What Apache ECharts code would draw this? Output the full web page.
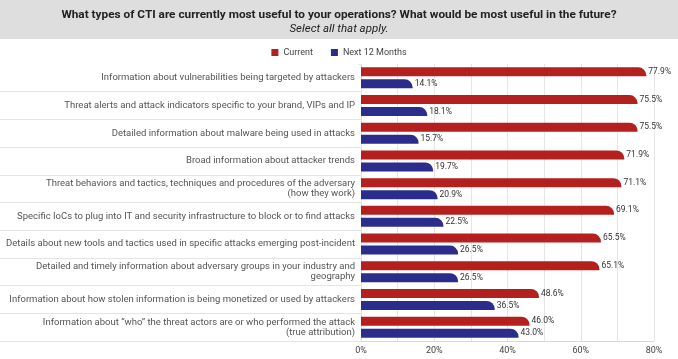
<!DOCTYPE html>
<html>
<head>
<meta charset="utf-8">
<script src="https://cdn.jsdelivr.net/npm/echarts@6/dist/echarts.min.js"></script>
<style>html,body{margin:0;padding:0;background:#fff}#c{width:678px;height:359px}</style>
</head>
<body>
<div id="c"></div>
<script>
const categories = [
  "Information about vulnerabilities being targeted by attackers",
  "Threat alerts and attack indicators specific to your brand, VIPs and IP",
  "Detailed information about malware being used in attacks",
  "Broad information about attacker trends",
  "Threat behaviors and tactics, techniques and procedures of the adversary\n(how they work)",
  "Specific IoCs to plug into IT and security infrastructure to block or to find attacks",
  "Details about new tools and tactics used in specific attacks emerging post-incident",
  "Detailed and timely information about adversary groups in your industry and\ngeography",
  "Information about how stolen information is being monetized or used by attackers",
  "Information about \u201cwho\u201d the threat actors are or who performed the attack\n(true attribution)"
];
const current = [77.9, 75.5, 75.5, 71.9, 71.1, 69.1, 65.5, 65.1, 48.6, 46.0];
const next12 = [14.1, 18.1, 15.7, 19.7, 20.9, 22.5, 26.5, 26.5, 36.5, 43.0];
const seriesNames = ["Current", "Next 12 Months"];
const titleText = "What types of CTI are currently most useful to your operations? What would be most useful in the future?";
const subText = "Select all that apply.";

const chart = echarts.init(document.getElementById('c'), null, {renderer: 'canvas'});
const FONT = 'Roboto';
const lbl = {
  show: true, position: 'right', distance: 2,
  fontFamily: FONT, fontSize: 8.5, color: '#333',
  formatter: p => p.value.toFixed(1) + '%'
};
chart.setOption({
  animation: false,
  graphic: [{
    type: 'rect', left: 0, top: 0, z: -10,
    shape: {width: 678, height: 39},
    style: {fill: '#dedede'}
  }, {
    type: 'rect', left: 0, top: 62.5, z: 100,
    shape: {width: 358, height: 3},
    style: {fill: '#ffffff'}
  }],
  title: {
    text: titleText, subtext: subText, left: 'center', top: 4, itemGap: 2,
    textStyle: {fontFamily: FONT, fontSize: 11.8, fontWeight: 'bold', color: '#222'},
    subtextStyle: {fontFamily: FONT, fontSize: 11.5, fontStyle: 'italic', color: '#222'}
  },
  legend: {
    top: 43, left: 'center', icon: 'rect', itemWidth: 7, itemHeight: 7, itemGap: 18,
    textStyle: {fontFamily: FONT, fontSize: 9, color: '#444'},
    data: seriesNames
  },
  grid: {left: 361, right: 24, top: 64, bottom: 18, containLabel: false},
  xAxis: {
    type: 'value', min: 0, max: 80, interval: 10,
    axisLine: {show: true, lineStyle: {color: '#d8d8d8'}},
    axisTick: {show: false},
    splitLine: {lineStyle: {color: '#e6e6e6'}},
    axisLabel: {
      fontFamily: FONT, fontSize: 9, color: '#444', margin: 5,
      formatter: v => (v % 20 === 0 ? v + '%' : '')
    }
  },
  yAxis: {
    type: 'category', inverse: true, data: categories,
    axisLine: {show: true, lineStyle: {color: '#e2e2e2'}},
    axisTick: {show: true, length: 361, lineStyle: {color: '#e4e4e4'}},
    axisLabel: {fontFamily: FONT, fontSize: 9.5, color: '#555', lineHeight: 10, margin: 6, align: 'right'}
  },
  series: [
    {
      name: seriesNames[0], type: 'bar', data: current, barWidth: 9, barGap: '33%',
      itemStyle: {color: '#b3201e', borderRadius: [0, 8, 0, 0]}, label: lbl
    },
    {
      name: seriesNames[1], type: 'bar', data: next12, barWidth: 9, barGap: '33%',
      itemStyle: {color: '#2a2d8c', borderRadius: [0, 8, 0, 0]}, label: lbl
    }
  ]
});
</script>
</body>
</html>
